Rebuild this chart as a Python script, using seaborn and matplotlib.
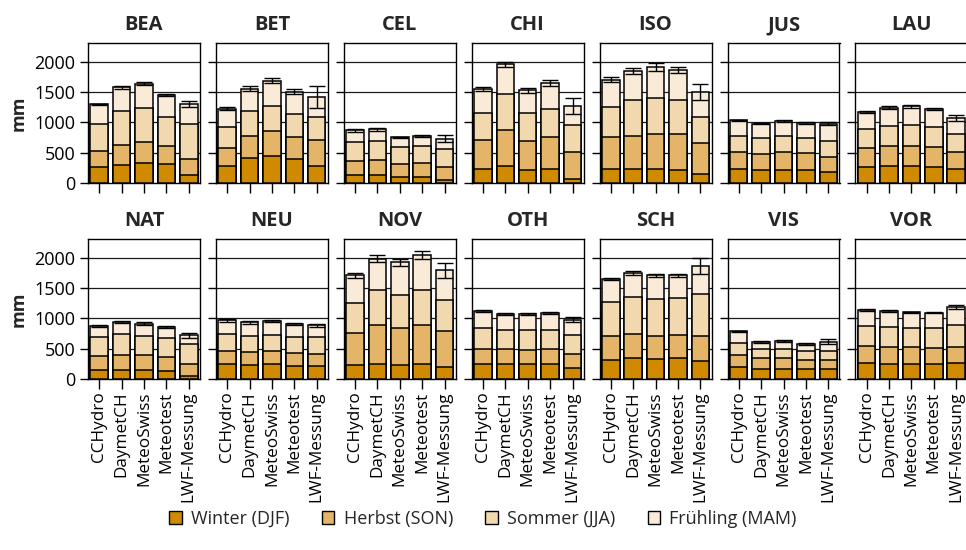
import numpy as np
import pandas as pd
import matplotlib
matplotlib.use("Agg")
import matplotlib.pyplot as plt
from matplotlib.patches import Patch
import seaborn as sns

# Stations (one panel each) and precipitation products (bars)
stations = ["BEA", "BET", "CEL", "CHI", "ISO", "JUS", "LAU",
            "NAT", "NEU", "NOV", "OTH", "SCH", "VIS", "VOR"]
products = ["CCHydro", "DaymetCH", "MeteoSwiss", "Meteotest", "LWF-Messung"]

# Seasonal precipitation sums in mm, one row per station, one column per product
winter = [
    [259, 298, 325, 309, 132], [287, 408, 452, 397, 287], [132, 132, 99, 99, 44],
    [231, 281, 209, 237, 72], [226, 231, 226, 220, 143], [231, 215, 215, 215, 176],
    [264, 281, 276, 270, 237], [143, 154, 143, 127, 50], [242, 231, 242, 220, 215],
    [226, 242, 237, 248, 204], [242, 242, 242, 242, 187], [320, 342, 325, 342, 292],
    [198, 171, 171, 160, 165], [259, 253, 253, 248, 270],
]
herbst = [
    [275, 336, 353, 308, 265], [297, 369, 408, 363, 429], [237, 248, 215, 226, 220],
    [474, 590, 485, 518, 440], [534, 551, 589, 584, 518], [281, 270, 292, 275, 248],
    [315, 331, 336, 320, 275], [243, 248, 254, 231, 198], [226, 215, 221, 204, 198],
    [534, 645, 606, 639, 584], [259, 248, 243, 254, 221], [385, 407, 391, 391, 419],
    [199, 171, 171, 160, 155], [286, 276, 270, 270, 259],
]
sommer = [
    [441, 551, 562, 474, 584], [342, 419, 418, 386, 375], [309, 314, 286, 287, 298],
    [452, 595, 458, 474, 452], [496, 584, 585, 562, 430], [270, 264, 270, 259, 265],
    [314, 330, 347, 336, 303], [308, 336, 319, 320, 336], [281, 270, 270, 276, 276],
    [496, 579, 551, 590, 512], [342, 325, 330, 319, 319], [562, 606, 612, 600, 689],
    [203, 148, 148, 137, 148], [326, 331, 326, 320, 358],
]
fruehling = [
    [325, 395, 402, 358, 324], [303, 364, 412, 364, 334], [192, 193, 155, 159, 171],
    [393, 494, 383, 421, 306], [452, 480, 517, 496, 413], [254, 232, 248, 243, 292],
    [281, 303, 308, 292, 265], [188, 204, 199, 182, 138], [221, 221, 226, 215, 198],
    [458, 523, 534, 567, 496], [276, 265, 265, 276, 254], [392, 397, 386, 381, 462],
    [188, 127, 138, 127, 149], [264, 259, 253, 259, 303],
]
# Uncertainty of the annual sum (mm)
fehler = [
    [12, 20, 20, 18, 50], [22, 45, 45, 45, 180], [20, 20, 12, 15, 55],
    [35, 45, 40, 45, 127], [40, 50, 65, 50, 138], [12, 12, 15, 12, 25],
    [15, 20, 20, 18, 50], [15, 22, 20, 18, 45], [20, 20, 22, 18, 28],
    [45, 60, 55, 65, 125], [15, 15, 15, 15, 45], [18, 25, 20, 20, 130],
    [12, 15, 15, 15, 40], [15, 15, 12, 12, 40],
]

season_labels = ["Winter (DJF)", "Herbst (SON)", "Sommer (JJA)", "Frühling (MAM)"]
season_colors = ["#D08A00", "#E4B468", "#F2D8AF", "#F9EBD7"]
yticks = [0, 500, 1000, 1500, 2000]

sns.set_theme(style="white")
plt.rcParams["font.family"] = ["Open Sans", "DejaVu Sans"]
plt.rcParams["axes.linewidth"] = 1.0

W, H = 966, 550
fig = plt.figure(figsize=(W / 100, H / 100), dpi=100)

left0, col_step, ax_w = 88, 127.9, 112
row_tops = [43, 239]
ax_h = 140

for k, st in enumerate(stations):
    row, col = divmod(k, 7)
    x0 = left0 + col * col_step
    y_top = row_tops[row]
    ax = fig.add_axes([x0 / W, 1 - (y_top + ax_h) / H, ax_w / W, ax_h / H])

    seasons = [winter[k], herbst[k], sommer[k], fruehling[k]]
    cum = np.cumsum(np.array(seasons), axis=0)
    df = pd.DataFrame({"produkt": products})
    # stacked bars: draw the cumulative totals from the top layer downwards
    for level in range(3, -1, -1):
        df["mm"] = cum[level]
        sns.barplot(data=df, x="produkt", y="mm", order=products,
                    color=season_colors[level], saturation=1,
                    edgecolor="black", linewidth=1.1, width=0.78,
                    errorbar=None, ax=ax, zorder=3)
    ax.errorbar(np.arange(len(products)), cum[3], yerr=fehler[k], fmt="none",
                ecolor="black", elinewidth=1.0, capsize=6, capthick=1.0,
                zorder=5)

    ax.set_xlim(-0.5, 4.5)
    ax.set_ylim(0, 2314)
    ax.set_yticks(yticks)
    ax.set_axisbelow(True)
    for g in yticks[1:]:
        ax.axhline(g, color="#1a1a1a", lw=0.9, zorder=0)
    ax.grid(False)
    for sp in ax.spines.values():
        sp.set_visible(True)
        sp.set_color("black")
        sp.set_linewidth(1.0)
    ax.set_xlabel("")
    ax.set_ylabel("")
    ax.tick_params(axis="both", which="both", direction="out", color="black",
                   width=1.0, labelsize=13, labelcolor="black")
    ax.tick_params(axis="y", length=6, left=True, pad=3)
    ax.tick_params(axis="x", length=7, bottom=True, pad=2)
    if col > 0:
        ax.tick_params(axis="y", labelleft=False)
    else:
        ax.set_ylabel("mm", fontsize=13, fontweight="bold", labelpad=5)
    if row == 0:
        ax.tick_params(axis="x", labelbottom=False)
    else:
        ax.set_xticks(range(len(products)))
        ax.set_xticklabels(products, rotation=90, fontsize=12.3)
    ax.set_title(st, fontsize=14.5, fontweight="bold", pad=9)

handles = [Patch(facecolor=c, edgecolor="black", linewidth=1.0) for c in season_colors]
fig.legend(handles, season_labels, loc="center", bbox_to_anchor=(0.5, 1 - 519 / H),
           ncol=4, frameon=False, fontsize=13, handlelength=0.7, handleheight=0.7,
           handletextpad=0.5, columnspacing=1.8, borderaxespad=0)

fig.savefig("out.png", dpi=100)
